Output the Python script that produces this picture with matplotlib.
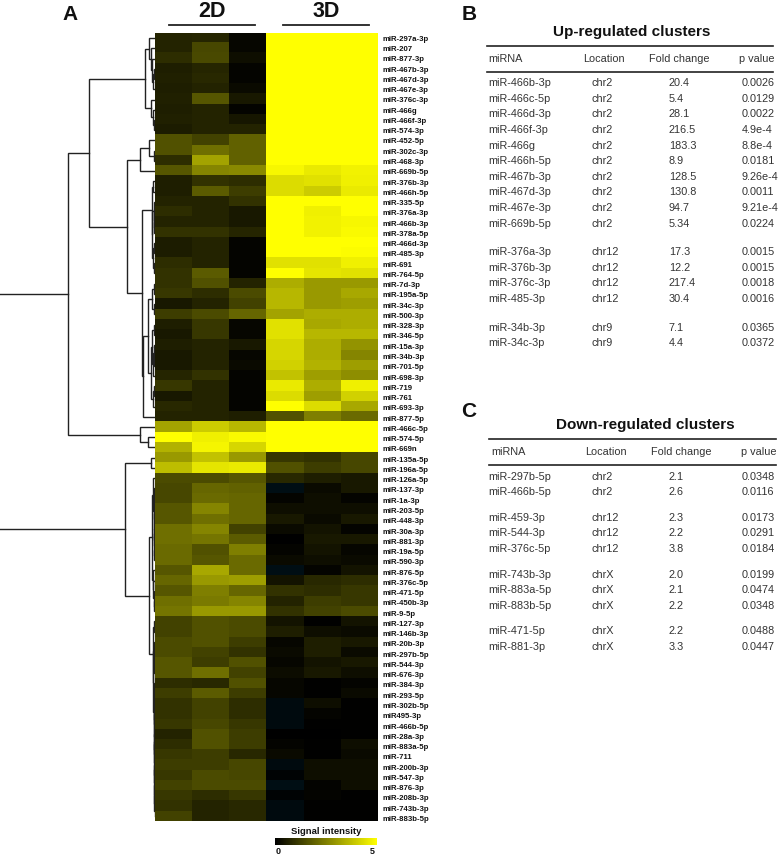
import numpy as np
import matplotlib
matplotlib.use('Agg')
import matplotlib.pyplot as plt
from matplotlib.colors import LinearSegmentedColormap

plt.rcParams['font.family'] = ['Liberation Sans', 'DejaVu Sans']

# heatmap rows, top to bottom
row_labels = [
    'miR-297a-3p', 'miR-207', 'miR-877-3p', 'miR-467b-3p', 'miR-467d-3p', 'miR-467e-3p', 'miR-376c-3p',
    'miR-466g', 'miR-466f-3p', 'miR-574-3p', 'miR-452-5p', 'miR-302c-3p', 'miR-468-3p', 'miR-669b-5p',
    'miR-376b-3p', 'miR-466h-5p', 'miR-335-5p', 'miR-376a-3p', 'miR-466b-3p', 'miR-378a-5p', 'miR-466d-3p',
    'miR-485-3p', 'miR-691', 'miR-764-5p', 'miR-7d-3p', 'miR-195a-5p', 'miR-34c-3p', 'miR-500-3p',
    'miR-328-3p', 'miR-346-5p', 'miR-15a-3p', 'miR-34b-3p', 'miR-701-5p', 'miR-698-3p', 'miR-719',
    'miR-761', 'miR-693-3p', 'miR-877-5p', 'miR-466c-5p', 'miR-574-5p', 'miR-669n', 'miR-135a-5p',
    'miR-196a-5p', 'miR-126a-5p', 'miR-137-3p', 'miR-1a-3p', 'miR-203-5p', 'miR-448-3p', 'miR-30a-3p',
    'miR-881-3p', 'miR-19a-5p', 'miR-590-3p', 'miR-876-5p', 'miR-376c-5p', 'miR-471-5p', 'miR-450b-3p',
    'miR-9-5p', 'miR-127-3p', 'miR-146b-3p', 'miR-20b-3p', 'miR-297b-5p', 'miR-544-3p', 'miR-676-3p',
    'miR-384-3p', 'miR-293-5p', 'miR-302b-5p', 'miR495-3p', 'miR-466b-5p', 'miR-28a-3p', 'miR-883a-5p',
    'miR-711', 'miR-200b-3p', 'miR-547-3p', 'miR-876-3p', 'miR-208b-3p', 'miR-743b-3p', 'miR-883b-5p',
]

# signal per replicate
values_2d = [
    [.7, .75, .15], [.7, 1.4, .15], [.9, 1.45, .3], [.6, .75, .1], [.65, .8, .1], [.6, .7, .2], [.65, 1.7, .5],
    [.6, .7, .1], [.65, .7, .45], [.55, .7, .7], [1.6, 1.3, 1.9], [1.6, 2.2, 1.9], [.9, 3.2, 1.9], [1.7, 2.6, 2.7],
    [.6, 1.0, .9], [.6, 1.8, 1.2], [.7, .7, 1.0], [.9, .7, .5], [.7, .7, .5], [1.0, 1.0, .75], [.55, .7, .1],
    [.55, .7, .1], [.9, .7, .1], [1.0, 1.8, .1], [1.0, 1.6, .7], [1.1, .9, 1.5], [.5, .7, 1.3], [1.2, 1.5, 2.0],
    [.6, 1.1, .15], [.5, 1.1, .15], [.6, .7, .5], [.5, .7, .15], [.5, .7, .2], [.75, 1.0, .1], [1.1, .7, .1],
    [.5, .7, .1], [.8, .7, .1], [.7, .7, .6], [3.2, 4.0, 3.6], [5.0, 4.7, 4.9], [3.5, 4.8, 4.2], [3.0, 3.8, 3.0],
    [3.7, 4.5, 4.6], [1.5, 1.5, 1.7], [1.4, 2.0, 1.9], [1.4, 2.1, 2.0], [1.7, 2.6, 2.0], [1.7, 2.2, 2.0], [2.2, 2.6, 1.3],
    [2.2, 2.3, 1.8], [2.1, 1.6, 2.5], [2.1, 1.7, 2.1], [1.7, 3.3, 2.1], [2.0, 3.0, 3.1], [1.7, 2.5, 2.0], [2.2, 2.4, 2.6],
    [2.3, 3.0, 3.0], [1.3, 1.6, 1.5], [1.3, 1.6, 1.5], [1.5, 1.6, 1.2], [1.5, 1.3, 1.0], [1.7, 1.2, 1.6], [1.7, 2.2, 1.3],
    [.9, .8, 1.6], [1.2, 1.8, 1.2], [1.0, 1.3, .9], [1.0, 1.3, .9], [1.1, 1.4, 1.1], [.7, 1.6, 1.2], [.9, 1.6, 1.2],
    [1.1, 1.2, .8], [1.2, 1.2, 1.4], [1.1, 1.5, 1.4], [1.3, 1.5, 1.5], [1.1, .9, 1.1], [1.0, .7, .8], [1.3, .7, .8],
]
values_3d = [
    [5, 5, 5], [5, 5, 5], [5, 5, 5], [5, 5, 5], [5, 5, 5], [5, 5, 5], [5, 5, 5],
    [5, 5, 5], [5, 5, 5], [5, 5, 5], [5, 5, 5], [5, 5, 5], [5, 5, 5], [4.85, 4.6, 4.75],
    [4.3, 4.4, 4.7], [4.3, 4.0, 4.6], [5, 5, 5], [5, 4.7, 5], [5, 4.75, 4.85], [5, 4.75, 4.9], [5, 5, 5],
    [5, 5, 4.95], [4.4, 4.4, 4.7], [5, 4.5, 4.4], [3.4, 3.0, 3.0], [3.6, 3.0, 3.3], [3.6, 3.0, 3.1], [3.2, 3.4, 3.4],
    [4.4, 3.3, 3.4], [4.4, 3.6, 3.6], [4.2, 3.4, 2.9], [4.2, 3.4, 2.6], [4.1, 3.5, 3.1], [3.8, 3.1, 2.8], [4.6, 3.4, 4.7],
    [4.3, 3.1, 4.1], [5, 4.3, 3.3], [1.6, 2.5, 2.1], [5, 5, 5], [5, 5, 5], [5, 5, 5], [1.1, 1.0, 1.4],
    [1.6, 1.2, 1.4], [.8, .6, .5], [-.2, .2, .5], [.1, .3, .1], [.3, .3, .3], [.5, .2, .5], [.2, .4, .1],
    [.0, .5, .5], [.1, .4, .15], [.2, .3, .2], [-.2, .1, .4], [.4, .8, .9], [1.0, .9, 1.1], [.7, 1.2, 1.1],
    [1.0, 1.3, 1.5], [.4, .05, .4], [.6, .3, .2], [.15, .6, .5], [.2, .6, .2], [.15, .4, .5], [.25, .5, .3],
    [.15, .05, .1], [.15, .05, .2], [-.15, .3, .05], [-.15, .1, .05], [-.15, .05, .05], [.0, .03, .05], [.1, .05, .3],
    [.2, .05, .2], [-.15, .3, .3], [-.05, .3, .3], [-.2, .08, .3], [-.05, .1, .05], [-.15, .05, .05], [-.15, .05, .05],
]

# clustering: (distance, child, child), ints are heatmap rows
rows_a = (6, 0, (4.5, 1, (3, 2, (2, (1.5, 3, 4), 5))))
rows_b = (4, 6, (2.5, 7, (1.5, 8, 9)))
rows_c = (15, (6, 10, (1, 11, 12)), 13)
rows_d = (3.5, (2, 14, 15), (2.8, (1.5, 16, (1.2, 17, (1, 18, 19))), (2, (1.2, 20, 21), (1.2, 22, 23))))
rows_e = (3, (1.5, 24, 25), (1.5, 26, 27))
rows_f = (4, (3, (1.5, 28, 29), (2, (1, 30, (.8, 31, 32)), 33)), (2, (1, 34, 35), 36))
rows_g = (13, rows_d, (12.5, (7, rows_e, rows_f), 37))
cluster_up = (87, (66, (10, rows_a, rows_b), (28, rows_c, rows_g)), (15, 38, (7, 39, 40)))
rows_h = (3, (2, 43, (1.5, (1, 44, 45), (1.2, (.8, 46, 47), (1, (.8, 48, 49), (.8, 50, 51))))),
          (2.5, 52, (2, 53, (1.2, 54, (1, 55, 56)))))
rows_i1 = (1.5, 59, (1, 60, (.8, 61, 62)))
rows_i2 = (.8, (.6, 71, 72), (.7, 73, (.6, 74, (.5, 75, 76))))
rows_i3 = (1.2, (.8, 65, (.6, 66, 67)), (1, (.7, 68, (.6, 69, 70)), rows_i2))
rows_i = (2.5, (1.5, 57, 58), (2, rows_i1, (1.5, (1, 63, 64), rows_i3)))
cluster_down = (30, (4, 41, 42), (6, rows_h, rows_i))

groups_b = [
    [('miR-466b-3p', 'chr2', '20.4', '0.0026'), ('miR-466c-5p', 'chr2', '5.4', '0.0129'),
     ('miR-466d-3p', 'chr2', '28.1', '0.0022'), ('miR-466f-3p', 'chr2', '216.5', '4.9e-4'),
     ('miR-466g', 'chr2', '183.3', '8.8e-4'), ('miR-466h-5p', 'chr2', '8.9', '0.0181'),
     ('miR-467b-3p', 'chr2', '128.5', '9.26e-4'), ('miR-467d-3p', 'chr2', '130.8', '0.0011'),
     ('miR-467e-3p', 'chr2', '94.7', '9.21e-4'), ('miR-669b-5p', 'chr2', '5.34', '0.0224')],
    [('miR-376a-3p', 'chr12', '17.3', '0.0015'), ('miR-376b-3p', 'chr12', '12.2', '0.0015'),
     ('miR-376c-3p', 'chr12', '217.4', '0.0018'), ('miR-485-3p', 'chr12', '30.4', '0.0016')],
    [('miR-34b-3p', 'chr9', '7.1', '0.0365'), ('miR-34c-3p', 'chr9', '4.4', '0.0372')],
]
groups_c = [
    [('miR-297b-5p', 'chr2', '2.1', '0.0348'), ('miR-466b-5p', 'chr2', '2.6', '0.0116')],
    [('miR-459-3p', 'chr12', '2.3', '0.0173'), ('miR-544-3p', 'chr12', '2.2', '0.0291'),
     ('miR-376c-5p', 'chr12', '3.8', '0.0184')],
    [('miR-743b-3p', 'chrX', '2.0', '0.0199'), ('miR-883a-5p', 'chrX', '2.1', '0.0474'),
     ('miR-883b-5p', 'chrX', '2.2', '0.0348')],
    [('miR-471-5p', 'chrX', '2.2', '0.0488'), ('miR-881-3p', 'chrX', '3.3', '0.0447')],
]
header = ['miRNA', 'Location', 'Fold change', 'p value']

W, H = 778, 855
fig = plt.figure(figsize=(W / 100, H / 100), dpi=100)

# low end goes slightly blue for values under zero
vmin, vmax = -0.3, 5
zero = -vmin / (vmax - vmin)
cmap = LinearSegmentedColormap.from_list('sig', [(0, '#01141c'), (zero, '#000000'), (1, '#ffff00')])


def box(left, top, right, bottom):
    return [left / W, 1 - bottom / H, (right - left) / W, (bottom - top) / H]


ax = fig.add_axes(box(155, 33, 378, 821))
ax.imshow(np.hstack([values_2d, values_3d]), cmap=cmap, vmin=vmin, vmax=vmax, aspect='auto', interpolation='nearest')
ax.set_xticks([])
ax.yaxis.tick_right()
# labels run a touch wider than the rows in the original
ax.set_yticks(np.arange(len(row_labels)) * 1.003 + 0.02, row_labels, fontsize=5.6, fontweight='bold', color='#111111')
ax.set_ylim(len(row_labels) - 0.5, -0.5)
ax.tick_params(axis='y', length=0, pad=2.9)
for s in ax.spines.values():
    s.set_visible(False)

# dendrogram, distance axis reads right to left and the root is cut off
den = fig.add_axes(box(0, 33, 155, 821))
den.set_xlim(155, 0)
den.set_ylim(len(row_labels), 0)
den.axis('off')


def draw_node(node):
    if isinstance(node, int):
        return 0, node + 0.5
    d, a, b = node
    xa, ya = draw_node(a)
    xb, yb = draw_node(b)
    den.plot([xa, d, d, xb], [ya, ya, yb, yb], color='#222222', lw=1.0, solid_joinstyle='miter')
    return d, (ya + yb) / 2


for cluster in (cluster_up, cluster_down):
    d, y = draw_node(cluster)
    den.plot([d, 170], [y, y], color='#222222', lw=1.0)

# colour bar
cb = fig.add_axes(box(275, 838, 377, 845))
cb.imshow(np.linspace(0, 5, 256).reshape(1, -1), cmap=cmap, vmin=vmin, vmax=vmax, aspect='auto')
cb.axis('off')

# everything else is placed in picture pixels
top = fig.add_axes([0, 0, 1, 1], zorder=5)
top.set_xlim(0, W)
top.set_ylim(H, 0)
top.axis('off')
top.patch.set_alpha(0)

for txt, x, y in [('A', 70, 20), ('B', 469, 20), ('C', 469, 416.5)]:
    top.text(x, y, txt, fontsize=15, fontweight='bold', ha='center', va='baseline', color='#111111')
for txt, x, x0, x1 in [('2D', 212, 169, 255), ('3D', 326, 283, 369)]:
    top.text(x, 17, txt, fontsize=15.5, fontweight='bold', ha='center', va='baseline', color='#111111')
    top.plot([x0, x1], [25, 25], color='#222222', lw=1.3)

top.text(326, 831.5, 'Signal intensity', fontsize=6.8, fontweight='bold', ha='center', va='center', color='#111111')
top.text(278, 851, '0', fontsize=6.5, fontweight='bold', ha='center', va='center', color='#111111')
top.text(372.7, 851, '5', fontsize=6.5, fontweight='bold', ha='center', va='center', color='#111111')


def draw_table(title, title_x, y_title, y_line0, y_head, y_line1, line_x, head_x, y_start, step, gap, groups):
    top.text(title_x, y_title, title, fontsize=11, fontweight='bold', ha='center', va='center', color='#111111')
    for yl in (y_line0, y_line1):
        top.plot(line_x, [yl, yl], color='#222222', lw=1.2)
    for txt, x in zip(header, head_x):
        top.text(x, y_head, txt, fontsize=7.8, ha='left', va='center', color='#333333')
    y = y_start
    for group in groups:
        for row in group:
            for txt, x in zip(row, [488, 592, 669, 742]):
                top.text(x, y, txt, fontsize=7.8, ha='left', va='center', color='#333333')
            y += step
        y += gap


draw_table('Up-regulated clusters', 632, 32.2, 46, 59, 71.7, [487, 773], [488.7, 583, 649, 738.7],
           83.2, 15.6, 13, groups_b)
draw_table('Down-regulated clusters', 645, 424.8, 439, 452, 464.7, [489, 775.7], [491, 585, 651, 741],
           476.5, 15.8, 9.5, groups_c)

fig.savefig('out.png', dpi=100)
